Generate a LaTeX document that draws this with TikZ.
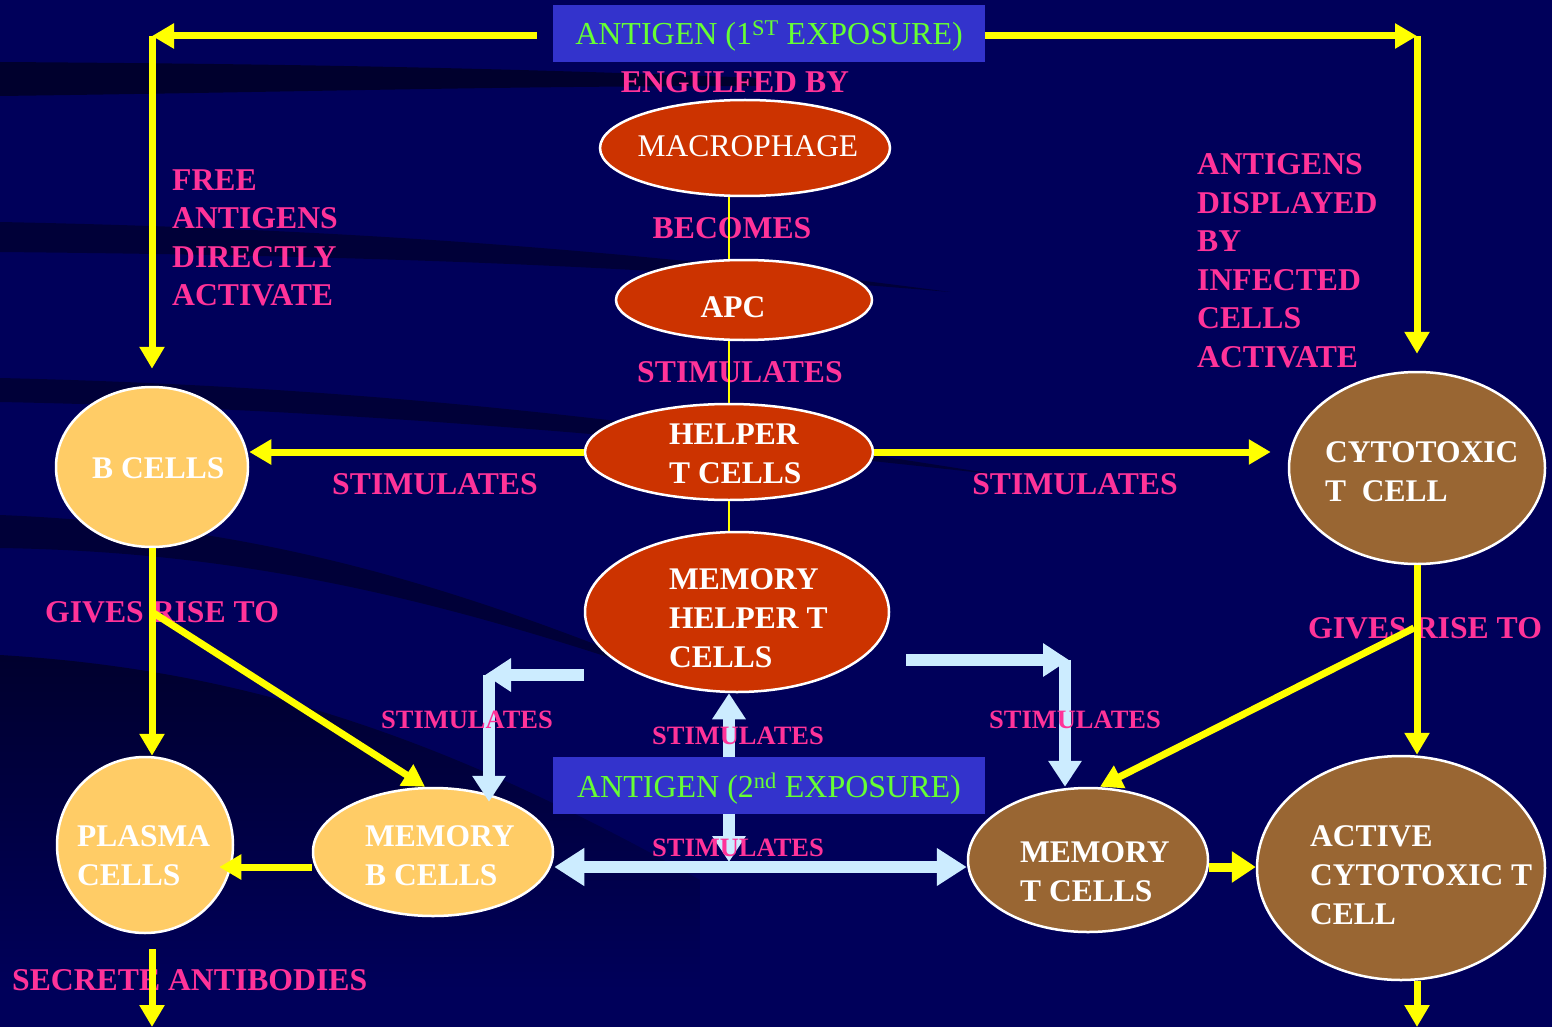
\documentclass[tikz,border=0pt]{standalone}
\usepackage{fontspec}
\setmainfont{Liberation Serif}
\usetikzlibrary{arrows.meta,shapes.geometric,calc}
\definecolor{bgc}{RGB}{0,0,90}
\definecolor{bandc}{RGB}{0,0,45}
\definecolor{pinkc}{RGB}{255,51,153}
\definecolor{greenc}{RGB}{102,255,51}
\definecolor{bannerc}{RGB}{51,51,204}
\definecolor{redc}{RGB}{204,51,0}
\definecolor{yelc}{RGB}{255,204,102}
\definecolor{brownc}{RGB}{153,102,51}
\definecolor{arrowy}{RGB}{255,255,0}
\definecolor{arrowb}{RGB}{204,236,255}
\tikzset{
  cell/.style={ellipse, draw=white, line width=2.5pt, inner sep=0pt},
  banner/.style={fill=bannerc, minimum width=432pt, minimum height=57pt, inner sep=0pt,
    text=greenc, font=\fontsize{32}{38}\selectfont, text depth=1pt},
  pinklab/.style={text=pinkc, font=\bfseries\fontsize{31.7}{38.5}\selectfont, inner sep=0pt, align=left},
  pinksm/.style={text=pinkc, font=\bfseries\fontsize{26.5}{32}\selectfont, inner sep=0pt},
  celltxt/.style={text=white, font=\bfseries\fontsize{31.5}{39}\selectfont, inner sep=0pt, align=left},
  yarr/.style={draw=arrowy, line width=7pt, -{Triangle[length=22pt,width=24pt]}},
  yline/.style={draw=arrowy, line width=2pt},
  barr/.style={draw=arrowb, line width=12pt, -{Triangle[length=26pt,width=32pt]}},
  bdbl/.style={draw=arrowb, line width=12pt, {Triangle[length=30pt,width=36pt]}-{Triangle[length=30pt,width=36pt]}}
}
\begin{document}
\begin{tikzpicture}[x=1pt,y=-1pt]
\fill[bgc] (0,0) rectangle (1552,1027);
\useasboundingbox (0,0) rectangle (1552,1027);
% background swooshes
\fill[bandc] (0,62) .. controls (300,64) and (500,68) .. (760,78) -- (760,86) .. controls (500,86) and (300,92) .. (0,96) -- cycle;
\fill[bandc, opacity=0.75] (0,222) .. controls (300,228) and (600,245) .. (950,292) .. controls (600,262) and (300,255) .. (0,252) -- cycle;
\fill[bandc, opacity=0.75] (0,378) .. controls (300,385) and (600,410) .. (1000,475) .. controls (600,430) and (300,408) .. (0,402) -- cycle;
\fill[bandc, opacity=0.75] (0,515) .. controls (250,525) and (450,580) .. (720,695) .. controls (450,600) and (250,552) .. (0,548) -- cycle;
\begin{scope}
\clip (0,655) .. controls (250,670) and (450,740) .. (700,880) -- (700,1027) -- (0,1027) -- cycle;
\shade[top color=bandc, bottom color=bgc] (0,650) rectangle (700,990);
\end{scope}

% banners
\node[banner] (ag1) at (769,33.5) {ANTIGEN (1\textsuperscript{ST} EXPOSURE)};
\node[banner] (ag2) at (769,785.5) {ANTIGEN (2\textsuperscript{nd} EXPOSURE)};

% cells
\node[cell, fill=redc, minimum width=290pt, minimum height=96pt] (mac) at (745,148) {};
\node[cell, fill=redc, minimum width=256pt, minimum height=80pt] (apc) at (744,300) {};
\node[cell, fill=redc, minimum width=288pt, minimum height=96pt] (helper) at (729,452) {};
\node[cell, fill=redc, minimum width=304pt, minimum height=160pt] (memh) at (737,612) {};
\node[cell, fill=yelc, minimum width=192pt, minimum height=160pt] (bcell) at (152,467) {};
\node[cell, fill=brownc, minimum width=256pt, minimum height=192pt] (cyto) at (1417,468) {};
\node[cell, fill=yelc, minimum width=176pt, minimum height=176pt] (plasma) at (145,845) {};
\node[cell, fill=yelc, minimum width=240pt, minimum height=128pt] (memb) at (433,852) {};
\node[cell, fill=brownc, minimum width=240pt, minimum height=144pt] (memt) at (1088,860) {};
\node[cell, fill=brownc, minimum width=288pt, minimum height=224pt] (active) at (1401,868) {};

% cell texts
\node[text=white, font=\fontsize{31.5}{38}\selectfont, inner sep=0pt, anchor=base] (mac-t) at (748,157) {MACROPHAGE};
\node[celltxt, anchor=base] (apc-t) at (733,317) {APC};
\node[celltxt, anchor=base west] (bcell-t) at (92,478) {B CELLS};
\node[celltxt, anchor=north west] (helper-t) at (669,424) {HELPER\\T CELLS};
\node[celltxt, anchor=north west] (memh-t) at (669,568) {MEMORY\\HELPER T\\CELLS};
\node[celltxt, anchor=north west] (cyto-t) at (1325,441) {CYTOTOXIC\\T\ \ CELL};
\node[celltxt, anchor=north west] (plasma-t) at (77,825) {PLASMA\\CELLS};
\node[celltxt, anchor=north west] (memb-t) at (365,825) {MEMORY\\B CELLS};
\node[celltxt, anchor=north west] (memt-t) at (1020,841) {MEMORY\\T CELLS};
\node[celltxt, anchor=north west] (active-t) at (1310,825) {ACTIVE\\CYTOTOXIC T\\CELL};

% pink labels
\node[pinklab, anchor=base] (l-eng) at (735,93) {ENGULFED BY};
\node[pinklab, anchor=base] (l-bec) at (732,238) {BECOMES};
\node[pinklab, anchor=base] (l-stim1) at (740,382) {STIMULATES};
\node[pinklab, anchor=north west] (l-free) at (172,169.5) {FREE\\ANTIGENS\\DIRECTLY\\ACTIVATE};
\node[pinklab, anchor=north west] (l-disp) at (1197,153.5) {ANTIGENS\\DISPLAYED\\BY\\INFECTED\\CELLS\\ACTIVATE};
\node[pinklab, anchor=base] (l-stimL) at (435,494) {STIMULATES};
\node[pinklab, anchor=base] (l-stimR) at (1075,494) {STIMULATES};
\node[pinklab, anchor=base west] (l-grL) at (45,622) {GIVES RISE TO};
\node[pinklab, anchor=base west] (l-grR) at (1308,638) {GIVES RISE TO};
\node[pinklab, anchor=base west] (l-sec) at (12,990) {SECRETE ANTIBODIES};

% coordinates
\coordinate (tl) at (152,36);
\coordinate (tr) at (1417,36);
\coordinate (lg) at (152,612);
\coordinate (rg) at (1414,628);
\coordinate (abo) at (152,1027);
\coordinate (act-out) at (1417,1027);
\coordinate (lbc) at (489,675);
\coordinate (rc) at (1065,660);
\coordinate (jn) at (729,867);

% yellow connectors
\draw[yarr] ([xshift=-16pt]ag1.west |- tl) -- (tl);
\draw[yarr, shorten >=17pt] (tl) -- (tl |- bcell.north);
\draw[yarr] (ag1.east |- tr) -- (tr);
\draw[yarr, shorten >=17pt] (tr) -- (tr |- cyto.north);
\draw[yline] (mac.south -| helper.south) -- (apc.north -| helper.south);
\draw[yline] (apc.south -| helper.south) -- (helper.north);
\draw[yline] (helper.south) -- (memh.north -| helper.south);
\draw[yarr] (helper.west) -- (helper.west -| bcell.east);
\draw[yarr, shorten >=17pt] (helper.east) -- (helper.east -| cyto.west);
\draw[yarr] (bcell.south) -- (bcell.south |- plasma.north);
\draw[yarr] (lg) -- ([xshift=-8pt]memb.north);
\draw[yarr, shorten >=-15pt] ([yshift=-15pt]memb.west) -- ([yshift=-15pt]memb.west -| plasma.east);
\draw[yarr] ([yshift=-15pt]plasma.south -| bcell.south) -- (abo);
\draw[yarr] (cyto.south) -- (cyto.south |- active.north);
\draw[yarr] (rg) -- ([xshift=12pt]memt.north);
\draw[draw=arrowy, line width=9pt, -{Triangle[length=24pt,width=30pt]}] ([yshift=-7pt]memt.east) -- ([yshift=-7pt]memt.east -| active.west);
\draw[yarr] (active.south -| cyto.south) -- (act-out);

% light blue connectors
\draw[barr] (memh.west |- lbc) -- ([xshift=-4pt]lbc);
\draw[barr, shorten >=-15pt] (lbc) -- (lbc |- memb.north);
\draw[barr] ([xshift=16pt]memh.east |- rc) -- ([xshift=4pt]rc);
\draw[barr] (rc) -- (rc |- memt.north);
\draw[barr] (ag2.north -| jn) -- (memh.south -| jn);
\draw[barr] (ag2.south -| jn) -- ([yshift=5pt]jn);
\draw[bdbl] (memb.east |- jn) -- (memt.west |- jn);

% small labels
\node[pinksm, anchor=base] (s1) at (467,728) {STIMULATES};
\node[pinksm, anchor=base] (s2) at (738,744) {STIMULATES};
\node[pinksm, anchor=base] (s3) at (1075,728) {STIMULATES};
\node[pinksm, anchor=base] (s4) at (738,856) {STIMULATES};
\end{tikzpicture}
\end{document}
